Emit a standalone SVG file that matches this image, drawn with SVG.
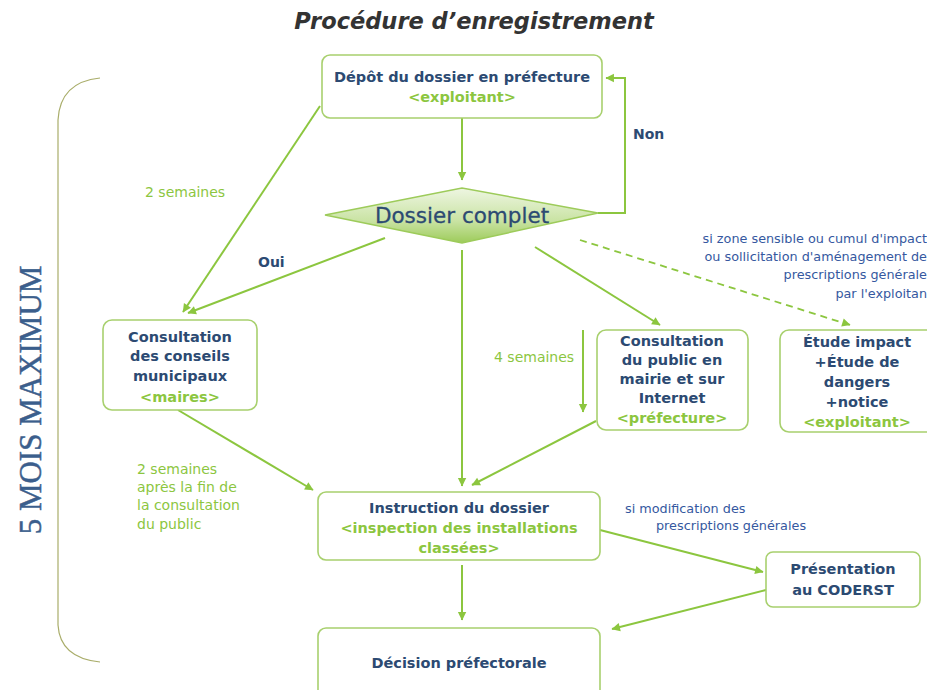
<svg xmlns="http://www.w3.org/2000/svg" width="927" height="690" viewBox="0 0 927 690">
<style>
.box{fill:#fff;stroke:#a8d06e;stroke-width:1.6}
.t{font-family:"DejaVu Sans",sans-serif;font-weight:bold;font-size:14.5px;fill:#2c4a72;text-anchor:middle}
.g{fill:#8cc63f}
.lbl{font-family:"DejaVu Sans",sans-serif;font-size:14px;fill:#8cc63f}
.blu{font-family:"DejaVu Sans",sans-serif;font-size:12.8px;fill:#3558a0}
.c{fill:none;stroke:#8cc63f;stroke-width:2}
.d{fill:none;stroke:#8cc63f;stroke-width:1.8;stroke-dasharray:7 5}
</style>
<defs>
<marker id="a" viewBox="0 0 10 10" refX="9" refY="5" markerWidth="6" markerHeight="6" orient="auto" markerUnits="userSpaceOnUse" overflow="visible">
<path d="M0,0 L10,5 L0,10 z" fill="#8cc63f" transform="scale(1.4) translate(-3,-1.5)"/>
</marker>
<linearGradient id="dg" x1="0" y1="0" x2="0" y2="1">
<stop offset="0" stop-color="#eef6e2"/>
<stop offset="0.6" stop-color="#c9e3a3"/>
<stop offset="1" stop-color="#9dcb5a"/>
</linearGradient>
</defs>
<rect width="927" height="690" fill="#fff"/>
<text x="474" y="29" text-anchor="middle" font-family="DejaVu Sans,sans-serif" font-weight="bold" font-style="italic" font-size="22.5" fill="#333">Procédure d’enregistrement</text>
<g id="bracket">
<path d="M100,78 Q60,82 58,120 L58,625 Q60,658 100,662" fill="none" stroke="#a9ad6a" stroke-width="1.2"/>
<text transform="translate(41,400) rotate(-90)" text-anchor="middle" font-family="Liberation Serif,serif" font-size="31" fill="#3b5e8c" stroke="#3b5e8c" stroke-width="0.5">5 MOIS MAXIMUM</text>
</g>
<g id="connectors">
<path class="c" d="M462,118 L462,180" marker-end="url(#a)"/>
<path class="c" d="M598,213 L625,213 L625,78 L606,78" marker-end="url(#a)"/>
<path class="c" d="M320,106 L183,312" marker-end="url(#a)"/>
<path class="c" d="M385,238 L188,313" marker-end="url(#a)"/>
<path class="c" d="M462,250 L462,486" marker-end="url(#a)"/>
<path class="c" d="M535,247 L660,325" marker-end="url(#a)"/>
<path class="d" d="M580,240 L850,325" marker-end="url(#a)"/>
<path class="c" d="M583,330 L583,412" marker-end="url(#a)"/>
<path class="c" d="M178,410 L313,490" marker-end="url(#a)"/>
<path class="c" d="M596,421 L472,485" marker-end="url(#a)"/>
<path class="c" d="M600,530 L763,572" marker-end="url(#a)"/>
<path class="c" d="M766,590 L612,629" marker-end="url(#a)"/>
<path class="c" d="M462,565 L462,620" marker-end="url(#a)"/>
<text x="633" y="139" font-family="DejaVu Sans,sans-serif" font-weight="bold" font-size="14" fill="#2c4a72">Non</text>
<text x="258" y="267" font-family="DejaVu Sans,sans-serif" font-weight="bold" font-size="14" fill="#2c4a72">Oui</text>
<text x="145" y="197" class="lbl">2 semaines</text>
<text x="494" y="362" class="lbl">4 semaines</text>
<text class="lbl"><tspan x="137" y="474">2 semaines</tspan><tspan x="137" y="492">après la fin de</tspan><tspan x="137" y="510">la consultation</tspan><tspan x="137" y="529">du public</tspan></text>
<text class="blu" text-anchor="end"><tspan x="927" y="243">si zone sensible ou cumul d'impact</tspan><tspan x="927" y="261">ou sollicitation d'aménagement de</tspan><tspan x="927" y="279">prescriptions générale</tspan><tspan x="927" y="298">par l'exploitan</tspan></text>
<text class="blu"><tspan x="625" y="513">si modification des</tspan><tspan x="656" y="530">prescriptions générales</tspan></text>
</g>
<g id="depot">
<rect class="box" x="322" y="55" width="280" height="63" rx="8"/>
<text class="t" x="462" y="82">Dépôt du dossier en préfecture</text>
<text class="t g" x="462" y="102">&lt;exploitant&gt;</text>
</g>
<g id="dossier-complet">
<path d="M325,215 L462,188 L598,213 L462,243 z" fill="url(#dg)" stroke="#9dcb5a" stroke-width="1.5"/>
<text x="462" y="223" text-anchor="middle" font-family="DejaVu Sans,sans-serif" font-size="21.5" fill="#2c4a72" stroke="#2c4a72" stroke-width="0.3">Dossier complet</text>
</g>
<g id="conseils">
<rect class="box" x="103" y="320" width="154" height="90" rx="9"/>
<text class="t"><tspan x="180" y="342">Consultation</tspan><tspan x="180" y="361">des conseils</tspan><tspan x="180" y="381">municipaux</tspan><tspan x="180" y="402" class="g">&lt;maires&gt;</tspan></text>
</g>
<g id="public">
<rect class="box" x="597" y="330" width="151" height="100" rx="9"/>
<text class="t"><tspan x="672" y="346">Consultation</tspan><tspan x="672" y="365">du public en</tspan><tspan x="672" y="384">mairie et sur</tspan><tspan x="672" y="403">Internet</tspan><tspan x="672" y="423" class="g">&lt;préfecture&gt;</tspan></text>
</g>
<g id="etude">
<rect class="box" x="780" y="330" width="160" height="102" rx="9"/>
<text class="t"><tspan x="857" y="347">Étude impact</tspan><tspan x="857" y="367">+Étude de</tspan><tspan x="857" y="387">dangers</tspan><tspan x="857" y="407">+notice</tspan><tspan x="857" y="427" class="g">&lt;exploitant&gt;</tspan></text>
</g>
<g id="instruction">
<rect class="box" x="318" y="492" width="282" height="68" rx="8"/>
<text class="t"><tspan x="459" y="513">Instruction du dossier</tspan><tspan x="459" y="533" class="g">&lt;inspection des installations</tspan><tspan x="459" y="553" class="g">classées&gt;</tspan></text>
</g>
<g id="coderst">
<rect class="box" x="766" y="552" width="154" height="55" rx="7"/>
<text class="t"><tspan x="843" y="574">Présentation</tspan><tspan x="843" y="595">au CODERST</tspan></text>
</g>
<g id="decision">
<rect class="box" x="318" y="628" width="282" height="75" rx="8"/>
<text class="t" x="459" y="668">Décision préfectorale</text>
</g>
</svg>
